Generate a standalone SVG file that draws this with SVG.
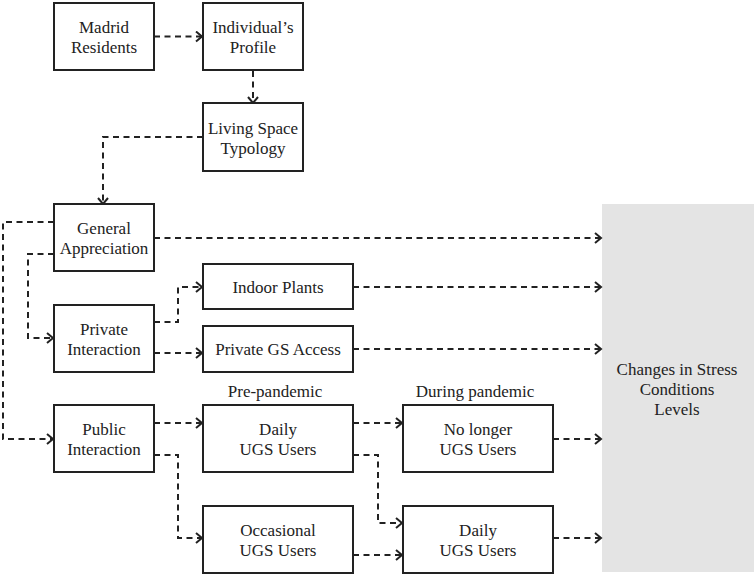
<svg xmlns="http://www.w3.org/2000/svg" width="754" height="576" viewBox="0 0 754 576">
<defs>
<style>
.box{fill:#fff;stroke:#222;stroke-width:2}
.t{font-family:"Liberation Serif","Times New Roman",serif;font-size:17px;fill:#222;text-anchor:middle}
.c{fill:none;stroke:#222;stroke-width:2;stroke-dasharray:6 4.5}
</style>
<marker id="ah" markerUnits="userSpaceOnUse" markerWidth="12" markerHeight="14" refX="7" refY="6" orient="auto" viewBox="0 0 12 14">
<path d="M1,1 L7,6 L1,11" fill="none" stroke="#222" stroke-width="2"/>
</marker>
</defs>
<rect width="754" height="576" fill="#fff"/>
<g id="stress">
<rect x="602" y="204" width="152" height="368" fill="#e4e4e4"/>
<text class="t" x="677" y="375">Changes in Stress</text>
<text class="t" x="677" y="395">Conditions</text>
<text class="t" x="677" y="415">Levels</text>
</g>
<g id="connectors">
<path class="c" d="M154,36.5 H202" marker-end="url(#ah)"/>
<path class="c" d="M253,71 V103" marker-end="url(#ah)"/>
<path class="c" d="M203,137 H103 V204" marker-end="url(#ah)"/>
<path class="c" d="M154,238 H601" marker-end="url(#ah)"/>
<path class="c" d="M54,222 H3 V439 H53" marker-end="url(#ah)"/>
<path class="c" d="M54,254 H28 V338 H53" marker-end="url(#ah)"/>
<path class="c" d="M154,322 H178 V287 H202" marker-end="url(#ah)"/>
<path class="c" d="M154,353 H202" marker-end="url(#ah)"/>
<path class="c" d="M353,287 H601" marker-end="url(#ah)"/>
<path class="c" d="M353,349 H601" marker-end="url(#ah)"/>
<path class="c" d="M154,423 H202" marker-end="url(#ah)"/>
<path class="c" d="M154,455 H178 V538 H202" marker-end="url(#ah)"/>
<path class="c" d="M353,423 H402" marker-end="url(#ah)"/>
<path class="c" d="M353,455 H378 V523 H402" marker-end="url(#ah)"/>
<path class="c" d="M353,555 H402" marker-end="url(#ah)"/>
<path class="c" d="M553,439 H601" marker-end="url(#ah)"/>
<path class="c" d="M553,538 H601" marker-end="url(#ah)"/>
</g>
<g id="madrid">
<rect class="box" x="54" y="3" width="100" height="67"/>
<text class="t" x="104" y="33">Madrid</text>
<text class="t" x="104" y="53">Residents</text>
</g>
<g id="profile">
<rect class="box" x="203" y="3" width="100" height="67"/>
<text class="t" x="253" y="33">Individual’s</text>
<text class="t" x="253" y="53">Profile</text>
</g>
<g id="living">
<rect class="box" x="203" y="103" width="100" height="68"/>
<text class="t" x="253" y="134">Living Space</text>
<text class="t" x="253" y="154">Typology</text>
</g>
<g id="general">
<rect class="box" x="54" y="204" width="100" height="67"/>
<text class="t" x="104" y="234">General</text>
<text class="t" x="104" y="254">Appreciation</text>
</g>
<g id="private">
<rect class="box" x="54" y="305" width="100" height="67"/>
<text class="t" x="104" y="335">Private</text>
<text class="t" x="104" y="355">Interaction</text>
</g>
<g id="public">
<rect class="box" x="54" y="405" width="100" height="67"/>
<text class="t" x="104" y="435">Public</text>
<text class="t" x="104" y="455">Interaction</text>
</g>
<g id="indoor">
<rect class="box" x="203" y="264" width="150" height="45"/>
<text class="t" x="278" y="293">Indoor Plants</text>
</g>
<g id="privategs">
<rect class="box" x="203" y="326" width="150" height="46"/>
<text class="t" x="278" y="355">Private GS Access</text>
</g>
<g id="labels">
<text class="t" x="275" y="397">Pre-pandemic</text>
<text class="t" x="475" y="397">During pandemic</text>
</g>
<g id="dailypre">
<rect class="box" x="203" y="405" width="150" height="67"/>
<text class="t" x="278" y="435">Daily</text>
<text class="t" x="278" y="455">UGS Users</text>
</g>
<g id="occasional">
<rect class="box" x="203" y="506" width="150" height="67"/>
<text class="t" x="278" y="536">Occasional</text>
<text class="t" x="278" y="556">UGS Users</text>
</g>
<g id="nolonger">
<rect class="box" x="403" y="405" width="150" height="67"/>
<text class="t" x="478" y="435">No longer</text>
<text class="t" x="478" y="455">UGS Users</text>
</g>
<g id="dailyduring">
<rect class="box" x="403" y="506" width="150" height="67"/>
<text class="t" x="478" y="536">Daily</text>
<text class="t" x="478" y="556">UGS Users</text>
</g>
</svg>
